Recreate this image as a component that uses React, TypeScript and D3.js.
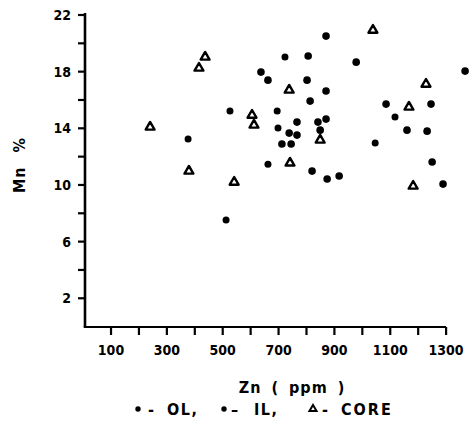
import React from "react";
import * as d3 from "d3";

// OL samples (Zn ppm, Mn %)
const olZn = [376, 512, 526, 662, 695, 698, 723, 1046, 1117];
const olMn = [13.24, 7.52, 15.22, 11.47, 15.22, 14.02, 19.03, 12.96, 14.79];

// IL samples
const ilZn = [637, 662, 712, 745, 738, 766, 766, 806, 802, 813, 820, 870, 870, 841, 870, 849, 874, 917, 978, 1085, 1160, 1232, 1246, 1250, 1289, 1368];
const ilMn = [17.97, 17.4, 12.89, 12.89, 13.66, 14.44, 13.52, 19.1, 17.4, 15.92, 10.98, 20.51, 16.63, 14.44, 14.65, 13.87, 10.42, 10.63, 18.67, 15.71, 13.87, 13.8, 15.71, 11.62, 10.06, 18.04];

// CORE samples
const coreZn = [240, 437, 415, 379, 541, 605, 612, 738, 741, 849, 1038, 1228, 1167, 1182];
const coreMn = [14.09, 19.03, 18.25, 10.98, 10.2, 14.93, 14.23, 16.7, 11.55, 13.17, 20.93, 17.12, 15.5, 9.92];

const xTicks = d3.range(100, 1301, 100);
const xTickLabels = [100, 300, 500, 700, 900, 1100, 1300];
const yTicks = d3.range(2, 23, 2);
const yTickLabels = [2, 6, 10, 14, 18, 22];

const W = 473;
const H = 426;
const FONT = "'DejaVu Sans Condensed', 'DejaVu Sans', sans-serif";

export default function App() {
  const x = d3.scaleLinear().domain([0, 1300]).range([83.1, 446.1]);
  const y = d3.scaleLinear().domain([0, 22]).range([326.6, 15]);
  const axisX = 85;
  const axisY = 327;
  const tri = d3.symbol().type(d3.symbolTriangle).size(34)();
  const triSmall = d3.symbol().type(d3.symbolTriangle).size(22)();

  return (
    <svg
      width={W}
      height={H}
      style={{ position: "absolute", left: 0, top: 0, background: "#fff" }}
      fontFamily={FONT}
      fontWeight="bold"
    >
      <rect width={W} height={H} fill="#fff" />
      {/* Y axis */}
      <line x1={axisX} x2={axisX} y1={13} y2={axisY} stroke="#000" strokeWidth={2.6} />
      {yTicks.map((t) => (
        <line key={"yt" + t} x1={axisX - 7} x2={axisX} y1={y(t)} y2={y(t)} stroke="#000" strokeWidth={2.2} />
      ))}
      {yTickLabels.map((t) => (
        <text key={"yl" + t} x={71} y={y(t)} dy="0.36em" textAnchor="end" fontSize={14} fill="#000">
          {t}
        </text>
      ))}
      {/* X axis */}
      <line x1={axisX - 1.3} x2={x(1300)} y1={axisY} y2={axisY} stroke="#000" strokeWidth={2.2} />
      {xTicks.map((t) => (
        <line key={"xt" + t} x1={x(t)} x2={x(t)} y1={axisY} y2={axisY + 8} stroke="#000" strokeWidth={2.2} />
      ))}
      {xTickLabels.map((t) => (
        <text key={"xl" + t} x={x(t)} y={350} dy="0.36em" textAnchor="middle" fontSize={14} fill="#000">
          {t}
        </text>
      ))}
      {/* Axis titles */}
      <text x={292} y={387} dy="0.36em" textAnchor="middle" fontSize={16} fill="#000" letterSpacing={1} wordSpacing={4}>
        Zn ( ppm )
      </text>
      <text
        transform="translate(19,165) rotate(-90)"
        textAnchor="middle"
        dy="0.36em"
        fontSize={16}
        fill="#000"
        letterSpacing={1}
        wordSpacing={8}
      >
        Mn %
      </text>
      {/* Points */}
      {olZn.map((v, i) => (
        <circle key={"ol" + i} cx={x(v)} cy={y(olMn[i])} r={3.5} fill="#000" />
      ))}
      {ilZn.map((v, i) => (
        <circle key={"il" + i} cx={x(v)} cy={y(ilMn[i])} r={3.8} fill="#000" />
      ))}
      {coreZn.map((v, i) => (
        <path
          key={"co" + i}
          d={tri as string}
          transform={`translate(${x(v)},${y(coreMn[i])})`}
          fill="#fff"
          stroke="#000"
          strokeWidth={2.4}
          strokeLinejoin="round"
        />
      ))}
      {/* Legend */}
      <g fontSize={16} fill="#000">
        <circle cx={138} cy={409} r={2.7} fill="#000" />
        <text x={148} y={409} dy="0.36em">-</text>
        <text x={167} y={409} dy="0.36em" letterSpacing={1.5}>OL,</text>
        <circle cx={224} cy={409} r={2.7} fill="#000" />
        <text x={231} y={409} dy="0.36em">–</text>
        <text x={254} y={409} dy="0.36em" letterSpacing={1.5}>IL,</text>
        <path d={triSmall as string} transform="translate(313,409)" fill="#fff" stroke="#000" strokeWidth={2} />
        <text x={322} y={409} dy="0.36em">-</text>
        <text x={341} y={409} dy="0.36em" letterSpacing={2}>CORE</text>
      </g>
    </svg>
  );
}
